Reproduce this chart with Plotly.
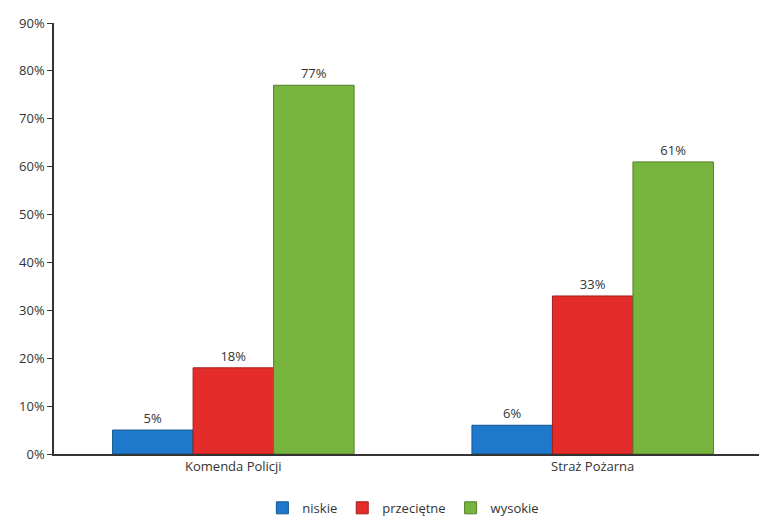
import plotly.graph_objects as go

categories = ["Komenda Policji", "Straż Pożarna"]
series_names = ["niskie", "przeciętne", "wysokie"]
niskie = [5, 6]
przecietne = [18, 33]
wysokie = [77, 61]
y_ticks = [0, 10, 20, 30, 40, 50, 60, 70, 80, 90]
y_tick_labels = [f"{v}%" for v in y_ticks]

colors = ["#1E79CC", "#E42C2A", "#78B53E"]
edges = ["#14558F", "#A31E1C", "#557F2B"]

fig = go.Figure()
for name, vals, c, e in zip(series_names, [niskie, przecietne, wysokie], colors, edges):
    fig.add_trace(go.Bar(
        x=categories, y=vals, name=name,
        marker=dict(color=c, line=dict(color=e, width=1)),
        text=[f"{v}%" for v in vals], textposition="outside",
        textfont=dict(size=13, color="#333333"),
        cliponaxis=False,
    ))

fig.update_layout(
    width=767, height=523,
    margin=dict(l=54, r=0, t=23, b=64),
    paper_bgcolor="white", plot_bgcolor="white",
    font=dict(family="Open Sans, sans-serif", size=13, color="#333333"),
    barmode="group", bargap=0.328, bargroupgap=0,
    showlegend=True,
    legend=dict(orientation="h", x=0.49, xanchor="center", y=-0.125, yanchor="middle",
                font=dict(size=13, color="#333333"), itemwidth=30, tracegroupgap=0),
    xaxis=dict(range=[-0.499, 1.485], showline=True, linecolor="#333333", linewidth=1.5,
               ticks="", showgrid=False, tickfont=dict(size=13, color="#333333")),
    yaxis=dict(range=[0, 90], tickvals=y_ticks, ticktext=y_tick_labels, showline=True,
               linecolor="#333333", linewidth=1.5, ticks="outside", ticklen=5,
               tickcolor="#333333", showgrid=False, zeroline=False,
               tickfont=dict(size=13, color="#333333")),
)

fig.write_html("out.html", config={"displayModeBar": False},
               post_script="document.body.style.margin='0px';document.body.style.overflow='hidden';")
